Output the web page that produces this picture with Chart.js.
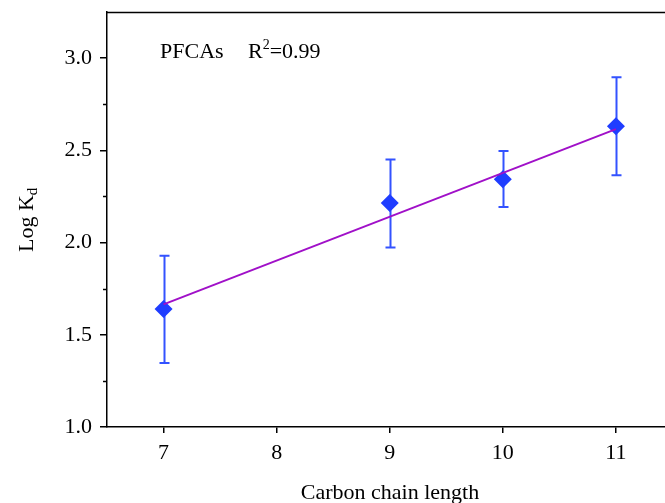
<!DOCTYPE html>
<html>
<head>
<meta charset="utf-8">
<script src="https://cdn.jsdelivr.net/npm/chart.js@4.4.1/dist/chart.umd.min.js"></script>
<style>
  html, body { margin: 0; padding: 0; background: #fff; }
  #wrap { width: 665px; height: 503px; position: relative; }
</style>
</head>
<body>
<div id="wrap"><canvas id="kdChart"></canvas></div>
<script>
// carbon chain length vs log Kd
var chainLength = [7, 9, 10, 11];
var logKd = [1.64, 2.215, 2.343, 2.63];
var errLow = [1.347, 1.973, 2.193, 2.365];
var errHigh = [1.928, 2.45, 2.497, 2.896];
var fitX = [7, 11];
var fitY = [1.665, 2.615];
var yMajorTicks = [1.0, 1.5, 2.0, 2.5, 3.0];
var xTicks = [7, 8, 9, 10, 11];

var FONT = '"Liberation Serif", "Times New Roman", serif';

var extras = {
    id: 'extras',
    beforeDatasetsDraw: function(chart) {
        var c = chart.ctx, xs = chart.scales.x, ys = chart.scales.y;
        c.save();
        c.strokeStyle = '#3352ff';
        c.lineWidth = 2;
        for (var i = 0; i < chainLength.length; i++) {
            var px = Math.round(xs.getPixelForValue(chainLength[i])) + 0.5;
            var top = ys.getPixelForValue(errHigh[i]);
            var bot = ys.getPixelForValue(errLow[i]);
            c.beginPath();
            c.moveTo(px, top); c.lineTo(px, bot);
            c.moveTo(px - 5, top); c.lineTo(px + 5, top);
            c.moveTo(px - 5, bot); c.lineTo(px + 5, bot);
            c.stroke();
        }
        c.restore();
    },
    afterDraw: function(chart) {
        var c = chart.ctx, a = chart.chartArea, ys = chart.scales.y;
        c.save();
        c.strokeStyle = '#000';
        c.lineWidth = 1.5;
        // top frame line
        c.beginPath();
        c.moveTo(a.left, a.top + 0.5);
        c.lineTo(a.right, a.top + 0.5);
        c.stroke();
        // minor y ticks
        for (var v = 1.25; v < 3.1; v += 0.5) {
            var py = Math.round(ys.getPixelForValue(v)) + 0.5;
            c.beginPath();
            c.moveTo(a.left - 4, py);
            c.lineTo(a.left, py);
            c.stroke();
        }
        c.fillStyle = '#000';
        // x title
        c.font = '22px ' + FONT;
        c.textAlign = 'center';
        c.textBaseline = 'alphabetic';
        c.fillText('Carbon chain length', 390, 499);
        // y title with subscript
        c.save();
        c.translate(33, 252);
        c.rotate(-Math.PI / 2);
        c.textAlign = 'left';
        c.font = '22px ' + FONT;
        c.fillText('Log K', 0, 0);
        var w = c.measureText('Log K').width;
        c.font = '15px ' + FONT;
        c.fillText('d', w, 4);
        c.restore();
        // annotation
        c.textAlign = 'left';
        c.font = '22px ' + FONT;
        c.fillText('PFCAs', 160, 58);
        c.fillText('R', 248, 58);
        var rw = c.measureText('R').width;
        c.font = '14px ' + FONT;
        c.fillText('2', 248 + rw, 49);
        var sw = c.measureText('2').width;
        c.font = '22px ' + FONT;
        c.fillText('=0.99', 248 + rw + sw, 58);
        c.restore();
    }
};

var ctx = document.getElementById('kdChart').getContext('2d');
var myChart = new Chart(ctx, {
    type: 'scatter',
    data: {
        datasets: [{
            type: 'line',
            label: 'fit',
            data: fitX.map(function(x, i) { return { x: x, y: fitY[i] }; }),
            borderColor: '#a010c8',
            borderWidth: 2,
            pointRadius: 0,
            fill: false
        }, {
            label: 'PFCAs',
            data: chainLength.map(function(x, i) { return { x: x, y: logKd[i] }; }),
            pointStyle: 'rectRot',
            pointRadius: 9,
            pointHoverRadius: 9,
            backgroundColor: '#1f3dff',
            borderColor: '#1f3dff',
            borderWidth: 0
        }]
    },
    options: {
        responsive: true,
        maintainAspectRatio: false,
        animation: false,
        events: [],
        layout: { autoPadding: false, padding: { top: 12, right: 0, left: 0, bottom: 0 } },
        plugins: {
            legend: { display: false },
            tooltip: { enabled: false }
        },
        scales: {
            x: {
                type: 'linear',
                min: 6.5,
                max: 11.434,
                afterFit: function(s) {
                    s.height = 76;
                    s.paddingLeft = 0;
                    s.paddingRight = 0;
                },
                afterBuildTicks: function(s) {
                    s.ticks = xTicks.map(function(v) { return { value: v }; });
                },
                border: { color: '#000', width: 1.5 },
                grid: { drawOnChartArea: false, drawTicks: true, tickLength: 6, color: '#000', lineWidth: 1.5 },
                ticks: {
                    padding: 7,
                    color: '#000',
                    font: { family: FONT, size: 22 },
                    maxRotation: 0
                }
            },
            y: {
                min: 1.0,
                max: 3.25,
                afterFit: function(s) {
                    s.width = 107;
                    s.paddingTop = 0;
                    s.paddingBottom = 0;
                },
                afterBuildTicks: function(s) {
                    s.ticks = yMajorTicks.map(function(v) { return { value: v }; });
                },
                border: { color: '#000', width: 1.5 },
                grid: { drawOnChartArea: false, drawTicks: true, tickLength: 7, color: '#000', lineWidth: 1.5 },
                ticks: {
                    padding: 8,
                    color: '#000',
                    font: { family: FONT, size: 22 },
                    callback: function(v) { return v.toFixed(1); }
                }
            }
        }
    },
    plugins: [extras]
});
</script>
</body>
</html>
